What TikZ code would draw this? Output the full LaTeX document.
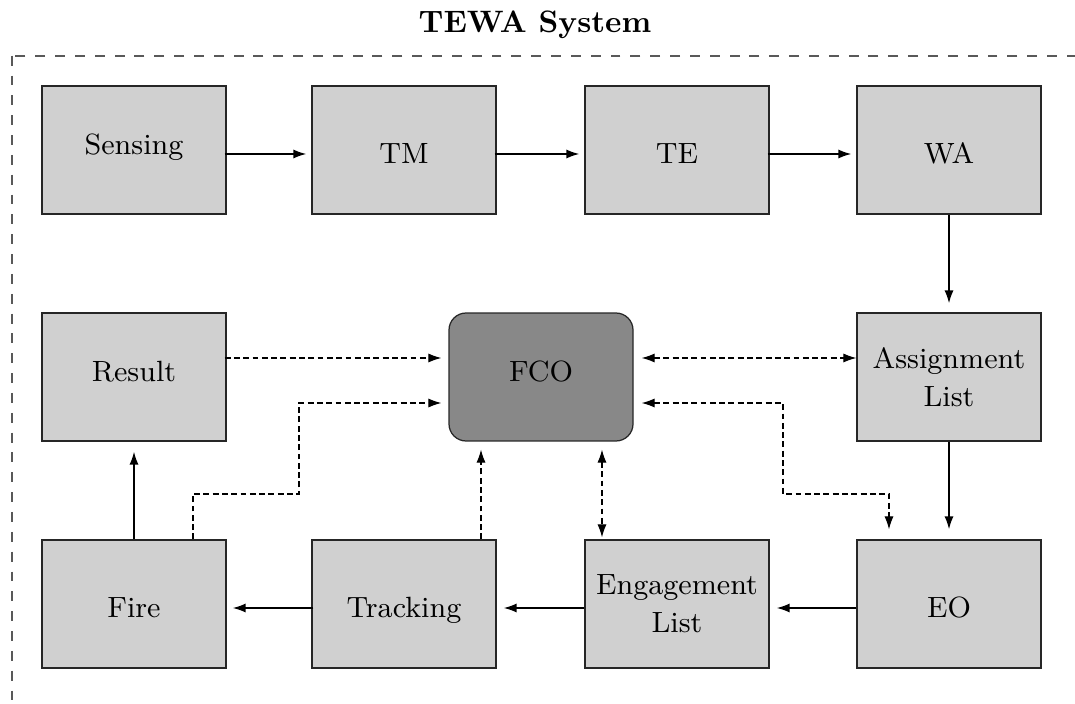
\documentclass[tikz,border=0pt]{standalone}
\usetikzlibrary{arrows.meta}
\definecolor{boxgray}{RGB}{208,208,208}
\definecolor{fcogray}{RGB}{136,136,136}
\begin{document}
\begin{tikzpicture}[x={(0.3226pt,0)},y={(0,-0.3226pt)},
  >={Latex[length=4.2pt,width=2.95pt]},
  box/.style={draw=black!85,line width=0.4pt,fill=boxgray,minimum width=59.36pt,minimum height=41.29pt,inner sep=2pt,align=center,font=\fontsize{9.45pt}{12.2pt}\selectfont},
  fcobox/.style={box,fill=fcogray,rounded corners=5.5pt},
  lowtext/.style={text height=8.4pt,text depth=0pt},
  midtext/.style={text height=6.5pt,text depth=3.6pt},
  solidarrow/.style={->,line width=0.55pt,black},
  dasharrow/.style={->,line width=0.4pt,black,dash pattern=on 1.9pt off 1.1pt},
  frame/.style={draw=black!65,line width=0.55pt,dash pattern=on 3.2pt off 3.2pt}]
\useasboundingbox (0,0) rectangle (1075,704);
\clip (0,0) rectangle (1075,704);
\draw[frame] (12,55.7) rectangle (1110,730);
\node[font=\bfseries,anchor=base] (title) at (535,33) {TEWA System};
% top row
\node[box,text height=6.5pt,text depth=3.27pt] (sensing) at (134,150) {Sensing};
\node[box,lowtext] (tm) at (404,150) {TM};
\node[box,lowtext] (te) at (677,150) {TE};
\node[box,lowtext] (wa) at (949,150) {WA};
% middle row
\node[box,midtext] (result) at (134,377) {Result};
\node[fcobox,midtext] (fco) at (541,377) {FCO};
\node[box] (assign) at (949,377) {Assignment\\List};
% bottom row
\node[box,lowtext] (fire) at (134,604) {Fire};
\node[box,lowtext] (tracking) at (404,604) {Tracking};
\node[box] (engage) at (677,604) {Engagement\\List};
\node[box,lowtext] (eo) at (949,604) {EO};
% solid arrows
\draw[solidarrow,shorten <=-0.65pt,shorten >=1.61pt] ([yshift=-1.29pt]sensing.east) -- ([yshift=-1.29pt]tm.west);
\draw[solidarrow,shorten <=-0.65pt,shorten >=1.61pt] ([yshift=-1.29pt]tm.east) -- ([yshift=-1.29pt]te.west);
\draw[solidarrow,shorten <=-0.65pt,shorten >=1.61pt] ([yshift=-1.29pt]te.east) -- ([yshift=-1.29pt]wa.west);
\draw[solidarrow,shorten >=2.9pt] (wa.south) -- (assign.north);
\draw[solidarrow,shorten >=3.23pt] (assign.south) -- (eo.north);
\draw[solidarrow,shorten >=2.26pt] ([yshift=-1.29pt]eo.west) -- ([yshift=-1.29pt]engage.east);
\draw[solidarrow,shorten >=2.26pt] ([yshift=-1.29pt]engage.west) -- ([yshift=-1.29pt]tracking.east);
\draw[solidarrow,shorten <=-0.65pt,shorten >=1.94pt] ([yshift=-1.29pt]tracking.west) -- ([yshift=-1.29pt]fire.east);
\draw[solidarrow,shorten >=3.23pt] (fire.north) -- (result.south);
% dashed arrows
\draw[dasharrow,shorten <=-0.65pt,shorten >=2.26pt] ([yshift=6.13pt]result.east) -- ([yshift=6.13pt]fco.west);
\draw[dasharrow,shorten >=2.26pt] ([xshift=19.03pt]fire.north) |- (299,494) |- ([yshift=-8.39pt]fco.west);
\draw[dasharrow,shorten >=2.58pt] ([xshift=24.84pt]tracking.north) -- ([xshift=24.84pt]tracking.north |- fco.south);
\draw[dasharrow,<->,shorten <=2.58pt,shorten >=0.65pt] ([xshift=-24.2pt]engage.north |- fco.south) -- ([xshift=-24.2pt]engage.north);
\draw[dasharrow,<->,shorten <=2.58pt] ([yshift=6.13pt]fco.east) -- ([yshift=6.13pt]assign.west);
\draw[dasharrow,<->,shorten <=2.58pt,shorten >=3.23pt] ([yshift=-8.39pt]fco.east) -| (783,494) -| ([xshift=-19.36pt]eo.north);
\end{tikzpicture}
\end{document}
